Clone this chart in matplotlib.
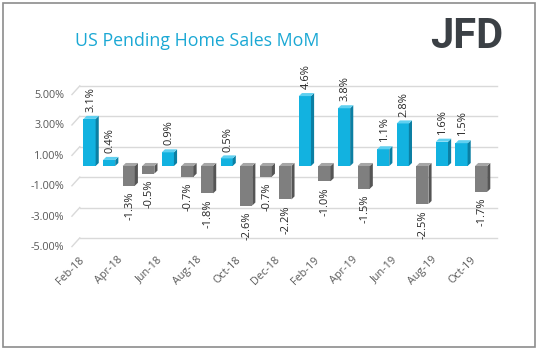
import matplotlib
matplotlib.use("Agg")
import matplotlib.pyplot as plt
from matplotlib.patches import Polygon, Rectangle
from matplotlib.transforms import ScaledTranslation
import numpy as np

months = ["Feb-18", "Mar-18", "Apr-18", "May-18", "Jun-18", "Jul-18", "Aug-18",
          "Sep-18", "Oct-18", "Nov-18", "Dec-18", "Jan-19", "Feb-19", "Mar-19",
          "Apr-19", "May-19", "Jun-19", "Jul-19", "Aug-19", "Sep-19", "Oct-19"]
values = [3.1, 0.4, -1.3, -0.5, 0.9, -0.7, -1.8, 0.5, -2.6, -0.7, -2.2, 4.6,
          -1.0, 3.8, -1.5, 1.1, 2.8, -2.5, 1.6, 1.5, -1.7]
yticks = [5, 3, 1, -1, -3, -5]

plt.rcParams['font.family'] = ['Open Sans', 'DejaVu Sans']

fig = plt.figure(figsize=(5.39, 3.53), dpi=100)
# outer frame
fig.patches.append(Rectangle((3/539, 6/353), 532/539, 344/353, transform=fig.transFigure,
                             fill=False, edgecolor='#8c8c8c', linewidth=1.2))

ax = fig.add_axes([0.148, 0.3144, 0.77, 0.4306])
ax.set_xlim(-0.5, 20.7)
ax.set_ylim(-5.0, 5.0)

depth = 0.27  # back-wall offset of the 3D look
for y in yticks:
    ax.plot([-0.5, 20.8], [y + depth, y + depth], color='#d9d9d9', linewidth=1.0,
            zorder=0, clip_on=False)
    ax.plot([-0.5, -0.9], [y + depth, y - 0.3], color='#d9d9d9', linewidth=1.0,
            zorder=0, clip_on=False)

w = 0.62
dx, dy = 0.16, 0.2
for i, v in enumerate(values):
    if v >= 0:
        front, side, top = '#12b2e0', '#0b7fa3', '#5fd0f0'
    else:
        front, side, top = '#7f7f7f', '#555555', '#a6a6a6'
    x0 = i - w / 2
    x1 = i + w / 2
    lo, hi = min(0, v), max(0, v)
    ax.add_patch(Rectangle((x0, lo), w, hi - lo, facecolor=front, edgecolor='none', zorder=3))
    ax.add_patch(Polygon([(x1, lo), (x1 + dx, lo + dy), (x1 + dx, hi + dy), (x1, hi)],
                         closed=True, facecolor=side, edgecolor='none', zorder=3))
    ax.add_patch(Polygon([(x0, hi), (x0 + dx, hi + dy), (x1 + dx, hi + dy), (x1, hi)],
                         closed=True, facecolor=top, edgecolor='none', zorder=3))
    lab = f"{v:.1f}%"
    if v >= 0:
        ax.text(i + 0.05, hi + 0.45, lab, rotation=90, ha='center', va='bottom',
                fontsize=8, color='#262626', zorder=4, clip_on=False)
    else:
        ax.text(i + 0.05, lo - 0.4, lab, rotation=90, ha='center', va='top',
                fontsize=8, color='#262626', zorder=4, clip_on=False)

ax.set_yticks(yticks)
ax.set_yticklabels([f"{y:.2f}%" for y in yticks], fontsize=7.8, color='#595959')
ax.set_xticks(range(0, len(months), 2))
ax.set_xticklabels(months[::2], rotation=45, ha='right', rotation_mode='anchor',
                   fontsize=7.8, color='#595959')
ax.tick_params(axis='both', length=0)
ax.tick_params(axis='y', pad=11)
ax.tick_params(axis='x', pad=9)
for lbl in ax.get_yticklabels():
    lbl.set_transform(lbl.get_transform() + ScaledTranslation(0, -4/100, fig.dpi_scale_trans))
for lbl in ax.get_xticklabels():
    lbl.set_transform(lbl.get_transform() + ScaledTranslation(-11/100, 0, fig.dpi_scale_trans))
for s in ax.spines.values():
    s.set_visible(False)

fig.text(75/539, 1 - 41/353, "US Pending Home Sales MoM", fontsize=12.8, color='#1ba8d4',
         ha='left', va='center')
fig.text(503/539, 1 - 37/353, "JFD", fontsize=30, fontweight='bold', color='#3b4045',
         ha='right', va='center', family=['Roboto', 'DejaVu Sans'])

fig.savefig("out.png", dpi=100)
